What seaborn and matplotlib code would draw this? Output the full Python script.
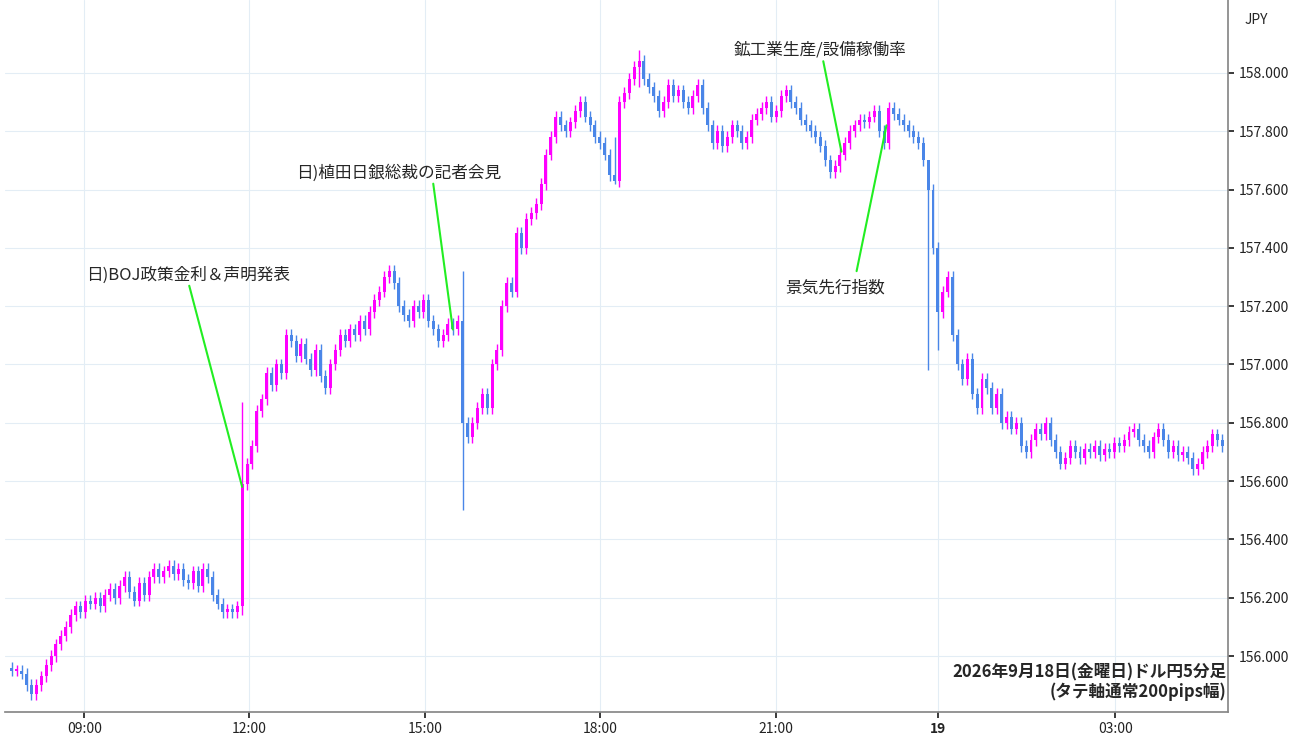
import numpy as np
import pandas as pd
import matplotlib
matplotlib.use("Agg")
import matplotlib.pyplot as plt
import seaborn as sns

# USD/JPY 5-minute closes, 2026-09-18 08:00 -> 09-19 04:35
closes = [
    155.95, 155.95, 155.94, 155.90, 155.87, 155.90, 155.93, 155.97, 156.00, 156.04,
    156.07, 156.10, 156.14, 156.17, 156.15, 156.19, 156.18, 156.20, 156.17, 156.21,
    156.23, 156.20, 156.24, 156.27, 156.22, 156.19, 156.25, 156.21, 156.27, 156.30,
    156.27, 156.29, 156.31, 156.28, 156.30, 156.26, 156.25, 156.29, 156.24, 156.30,
    156.27, 156.21, 156.18, 156.15, 156.16, 156.15, 156.17, 156.59, 156.66, 156.72,
    156.84, 156.88, 156.97, 156.93, 157.00, 156.97, 157.10, 157.08, 157.03, 157.07,
    157.02, 156.98, 157.05, 156.96, 156.92, 157.00, 157.05, 157.10, 157.08, 157.12,
    157.10, 157.15, 157.12, 157.18, 157.22, 157.25, 157.30, 157.32, 157.28, 157.20,
    157.17, 157.15, 157.20, 157.18, 157.22, 157.15, 157.12, 157.08, 157.10, 157.14,
    157.12, 157.15, 156.80, 156.75, 156.80, 156.85, 156.90, 156.85, 157.00, 157.05,
    157.20, 157.28, 157.25, 157.45, 157.40, 157.50, 157.52, 157.55, 157.62, 157.72,
    157.78, 157.85, 157.82, 157.80, 157.83, 157.87, 157.90, 157.85, 157.82, 157.78,
    157.76, 157.72, 157.65, 157.63, 157.90, 157.93, 157.98, 158.02, 158.04, 157.98,
    157.95, 157.92, 157.87, 157.90, 157.96, 157.92, 157.94, 157.90, 157.88, 157.92,
    157.96, 157.88, 157.82, 157.76, 157.80, 157.75, 157.78, 157.82, 157.80, 157.76,
    157.78, 157.84, 157.86, 157.88, 157.90, 157.85, 157.87, 157.92, 157.94, 157.90,
    157.88, 157.84, 157.82, 157.80, 157.78, 157.75, 157.70, 157.66, 157.68, 157.72,
    157.76, 157.80, 157.82, 157.84, 157.83, 157.85, 157.87, 157.80, 157.76, 157.88,
    157.86, 157.84, 157.82, 157.80, 157.78, 157.76, 157.70, 157.60, 157.40, 157.18,
    157.25, 157.30, 157.10, 157.00, 156.95, 157.02, 156.90, 156.85, 156.95, 156.92,
    156.85, 156.90, 156.80, 156.82, 156.78, 156.80, 156.72, 156.70, 156.74, 156.78,
    156.76, 156.80, 156.74, 156.70, 156.66, 156.68, 156.72, 156.70, 156.68, 156.71,
    156.70, 156.72, 156.69, 156.71, 156.70, 156.73, 156.72, 156.74, 156.77, 156.78,
    156.74, 156.72, 156.70, 156.75, 156.78, 156.74, 156.70, 156.72, 156.69, 156.70,
    156.68, 156.64, 156.66, 156.70, 156.72, 156.76, 156.74, 156.72,
]
first_open = 155.96
# notable long wicks: index -> (high, low)
long_wicks = {47: (156.87, 156.14), 92: (157.32, 156.50), 187: (157.66, 156.98),
              189: (157.42, 157.05), 128: (158.08, 157.95), 123: (157.78, 157.62)}

tick_pos = [14.8, 48.4, 84.3, 120.0, 156.0, 189.1, 225.2]
tick_labels = ["09:00", "12:00", "15:00", "18:00", "21:00", "19", "03:00"]

df = pd.DataFrame({"close": closes})
df["open"] = df["close"].shift(1).fillna(first_open)
df["high"] = df[["open", "close"]].max(axis=1) + 0.02
df["low"] = df[["open", "close"]].min(axis=1) - 0.02
for k, (h, l) in long_wicks.items():
    df.loc[k, "high"] = h
    df.loc[k, "low"] = l
df["x"] = np.arange(len(df))

sns.set_theme(style="white")
plt.rcParams["font.family"] = ["Noto Sans CJK JP", "DejaVu Sans"]

fig = plt.figure(figsize=(13, 7.45), dpi=100)
ax = fig.add_axes([5 / 1300, 33 / 745, 1223 / 1300, 712 / 745])

up_c, dn_c = "#ff00ff", "#4a86e8"
colors = np.where(df["close"] >= df["open"], up_c, dn_c)
ax.vlines(df["x"], df["low"], df["high"], colors=colors, linewidth=1, zorder=3)
body = (df["close"] - df["open"]).abs().clip(lower=0.006)
ax.bar(df["x"], body, bottom=df[["open", "close"]].min(axis=1), width=0.6,
       color=colors, linewidth=0, zorder=4)

ax.set_xlim(-1.4, 248.2)
ax.set_ylim(155.808, 158.25)
ax.set_yticks(np.arange(156.0, 158.01, 0.2))
ax.yaxis.tick_right()
ax.yaxis.set_major_formatter(matplotlib.ticker.FormatStrFormatter("%.3f"))
ax.set_xticks(tick_pos)
ax.set_xticklabels(tick_labels)
for lab in ax.get_xticklabels():
    if lab.get_text() == "19":
        lab.set_fontweight("bold")
ax.tick_params(labelsize=10, colors="#222222", length=4, right=True, bottom=True)
ax.grid(True, color="#e3edf5", linewidth=0.8, zorder=0)
for s in ["top", "left"]:
    ax.spines[s].set_visible(False)
ax.spines["right"].set_color("#888888")
ax.spines["bottom"].set_color("#888888")

fig.text(1256 / 1300, 1 - 20 / 745, "JPY", fontsize=10, ha="center", va="center")

green = "#22ee22"
notes = [
    ("日)BOJ政策金利＆声明発表", (36.0, 157.307), (36.2, 157.27), (47.0, 156.58)),
    ("日)植田日銀総裁の記者会見", (79.0, 157.657), (86.0, 157.62), (90.0, 157.12)),
    ("鉱工業生産/設備稼働率", (165.0, 158.079), (165.6, 158.04), (169.3, 157.73)),
    ("景気先行指数", (168.0, 157.262), (172.4, 157.32), (178.5, 157.82)),
]
for txt, tpos, p0, p1 in notes:
    ax.text(tpos[0], tpos[1], txt, fontsize=12, ha="center", va="center", zorder=6)
    ax.plot([p0[0], p1[0]], [p0[1], p1[1]], color=green, linewidth=1.5, zorder=5)

ax.text(0.9985, 0.015, "2026年9月18日(金曜日)ドル円5分足\n(タテ軸通常200pips幅)",
        transform=ax.transAxes, ha="right", va="bottom", fontsize=12,
        fontweight="bold", linespacing=1.1, zorder=6)

fig.savefig("out.png", dpi=100)
